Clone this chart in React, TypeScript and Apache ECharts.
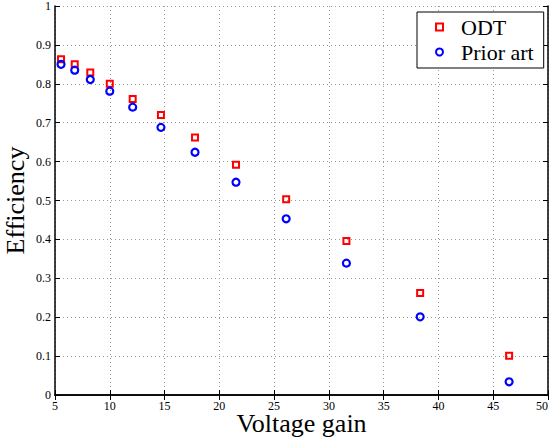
import React, { useEffect, useRef } from "react";
import * as echarts from "echarts";

const voltageGain = [5.55, 6.8, 8.22, 10.0, 12.09, 14.67, 17.78, 21.52, 26.1, 31.6, 38.33, 46.45];
const odtEfficiency = [0.863, 0.85, 0.829, 0.8, 0.761, 0.72, 0.662, 0.592, 0.503, 0.396, 0.262, 0.101];
const priorEfficiency = [0.85, 0.835, 0.811, 0.781, 0.74, 0.688, 0.624, 0.547, 0.453, 0.339, 0.201, 0.034];

const FONT = "Liberation Serif";

export default function App() {
  const ref = useRef<HTMLDivElement>(null);
  useEffect(() => {
    document.body.style.margin = "0";
    if (!ref.current) return;
    const chart = echarts.init(ref.current, null, { renderer: "svg" });
    const axisLine = { show: true, lineStyle: { color: "#000", width: 1.5 } };
    const tick = { show: true, inside: true, length: 5, lineStyle: { color: "#000", width: 1 } };
    const grid = { show: true, lineStyle: { color: "#999", type: [1, 3], width: 1 } };
    const label = { color: "#000", fontFamily: FONT, fontSize: 12, lineHeight: 12 };
    chart.setOption({
      animation: false,
      backgroundColor: "#fff",
      grid: { left: 55, right: 2, top: 6, bottom: 49, outerBoundsMode: "none", containLabel: false },
      xAxis: [
        {
          type: "value",
          min: 5,
          max: 50,
          interval: 5,
          position: "bottom",
          axisLine,
          axisTick: tick,
          splitLine: grid,
          axisLabel: { ...label, margin: 5, alignMaxLabel: "right" },
          name: "Voltage gain",
          nameLocation: "middle",
          nameGap: 18,
          nameMoveOverlap: false,
          nameTextStyle: { color: "#000", fontFamily: FONT, fontSize: 26, lineHeight: 20, verticalAlign: "top" },
        },
        {
          type: "value",
          min: 5,
          max: 50,
          interval: 5,
          position: "top",
          axisLine,
          axisTick: tick,
          splitLine: { show: false },
          axisLabel: { show: false },
        },
      ],
      yAxis: [
        {
          type: "value",
          min: 0,
          max: 1,
          interval: 0.1,
          position: "left",
          axisLine,
          axisTick: tick,
          splitLine: grid,
          axisLabel: { ...label, margin: 4 },
          name: "Efficiency",
          nameLocation: "middle",
          nameGap: 27,
          nameMoveOverlap: false,
          nameRotate: 90,
          nameTextStyle: { color: "#000", fontFamily: FONT, fontSize: 26, lineHeight: 26 },
        },
        {
          type: "value",
          min: 0,
          max: 1,
          interval: 0.1,
          position: "right",
          axisLine,
          axisTick: tick,
          splitLine: { show: false },
          axisLabel: { show: false },
        },
      ],
      legend: {
        left: 417,
        top: 12,
        orient: "vertical",
        backgroundColor: "#fff",
        borderColor: "#000",
        borderWidth: 1,
        padding: [4, 10, 5, 18],
        itemGap: 3,
        itemWidth: 7,
        itemHeight: 7,
        textStyle: { color: "#000", fontFamily: FONT, fontSize: 22, lineHeight: 22, padding: [0, 0, 0, 13] },
        data: ["ODT", "Prior art"],
      },
      series: [
        {
          name: "ODT",
          type: "scatter",
          xAxisIndex: 0,
          yAxisIndex: 0,
          symbol: "rect",
          symbolSize: 6,
          itemStyle: { color: "rgba(0,0,0,0)", borderColor: "#ff0000", borderWidth: 2, opacity: 1 },
          data: voltageGain.map((x, i) => [x, odtEfficiency[i]]),
        },
        {
          name: "Prior art",
          type: "scatter",
          xAxisIndex: 0,
          yAxisIndex: 0,
          symbol: "circle",
          symbolSize: 7,
          itemStyle: { color: "rgba(0,0,0,0)", borderColor: "#0000ff", borderWidth: 2.2, opacity: 1 },
          data: voltageGain.map((x, i) => [x, priorEfficiency[i]]),
        },
      ],
    });
    return () => chart.dispose();
  }, []);
  return <div ref={ref} style={{ width: 550, height: 444 }} />;
}
